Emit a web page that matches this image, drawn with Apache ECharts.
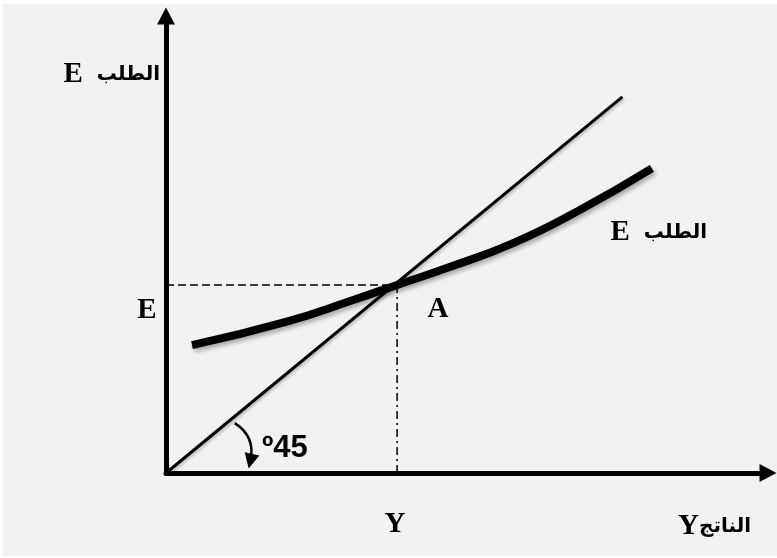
<!DOCTYPE html>
<html>
<head>
<meta charset="utf-8">
<script src="https://cdn.jsdelivr.net/npm/echarts@6/dist/echarts.min.js"></script>
<style>
  html, body { margin: 0; background: #fff; }
  #main { position: absolute; left: 3px; top: 4px; width: 774px; height: 552px; }
</style>
</head>
<body>
<div id="main"></div>
<script>
// 45 degree line (E = Y)
const diagY = [0, 7.9];
const diagE = [0, 8];

// demand curve E
const demandY = [0.45, 2.09, 3.24, 4, 4.86, 6.01, 7.17, 8.41];
const demandE = [2.72, 3.22, 3.68, 4, 4.36, 4.89, 5.6, 6.48];

// equilibrium point A
const eqY = 4;
const eqE = 4;

// curved arrow marking the 45 degree angle
const arcY = [1.19, 1.46];
const arcE = [1.06, 0.25];

const zip = (xs, ys) => xs.map((x, i) => [x, ys[i]]);

const chart = echarts.init(document.getElementById('main'));

const serif = 'Liberation Serif, Times New Roman, serif';
const arabic = 'DejaVu Sans, Noto Sans, sans-serif';

function label(x, y, text, align, rich) {
  return {
    type: 'text',
    x: x,
    y: y,
    z: 10,
    style: {
      text: text,
      align: align,
      verticalAlign: 'middle',
      fill: '#000',
      font: 'bold 29px ' + serif,
      rich: rich
    }
  };
}

const mixed = {
  e: { fontFamily: serif, fontWeight: 'bold', fontSize: 29, fill: '#000' },
  ar: { fontFamily: arabic, fontWeight: 'bold', fontSize: 20, fill: '#000' },
  gap: { fontFamily: serif, fontSize: 29, width: 14 }
};

const axisLine = {
  show: true,
  onZero: false,
  symbol: ['none', 'triangle'],
  symbolSize: [18, 17],
  lineStyle: { color: '#000', width: 5 }
};

const option = {
  backgroundColor: '#f2f2f2',
  animation: false,
  grid: { left: 163, right: 9, top: 12, bottom: 83 },
  xAxis: {
    type: 'value',
    min: 0,
    max: 10.42,
    axisLine: axisLine,
    axisTick: { show: false },
    axisLabel: { show: false },
    splitLine: { show: false }
  },
  yAxis: {
    type: 'value',
    min: 0,
    max: 9.72,
    axisLine: axisLine,
    axisTick: { show: false },
    axisLabel: { show: false },
    splitLine: { show: false }
  },
  series: [
    {
      name: 'guideE',
      type: 'line',
      data: [[0, eqE], [eqY, eqE]],
      symbol: 'none',
      lineStyle: { color: '#000', width: 1.5, type: [8, 4] },
      z: 1
    },
    {
      name: 'guideY',
      type: 'line',
      data: [[eqY, eqE], [eqY, 0]],
      symbol: 'none',
      lineStyle: { color: '#000', width: 1.5, type: [8, 4, 2, 4] },
      z: 1
    },
    {
      name: '45',
      type: 'line',
      data: zip(diagY, diagE),
      symbol: 'none',
      lineStyle: {
        color: '#000', width: 3,
        shadowColor: 'rgba(0,0,0,0.25)', shadowBlur: 3, shadowOffsetX: 1, shadowOffsetY: 2
      },
      z: 2
    },
    {
      name: 'demand',
      type: 'line',
      smooth: true,
      data: zip(demandY, demandE),
      symbol: 'none',
      lineStyle: {
        color: '#000', width: 8, cap: 'butt',
        shadowColor: 'rgba(0,0,0,0.3)', shadowBlur: 4, shadowOffsetX: 2, shadowOffsetY: 3
      },
      z: 3
    },
    {
      name: 'angle',
      type: 'lines',
      coordinateSystem: 'cartesian2d',
      data: [{ coords: zip(arcY, arcE) }],
      symbol: ['none', 'triangle'],
      symbolSize: 15,
      lineStyle: { color: '#000', width: 2.5, curveness: 0.35, opacity: 1 },
      z: 4
    }
  ],
  graphic: [
    label(157, 71, '{e|E}{gap|}{ar|الطلب}', 'right', mixed),
    label(144, 307, 'E', 'center'),
    label(435, 306, 'A', 'center'),
    label(704, 229, '{e|E}{gap|}{ar|الطلب}', 'right', mixed),
    label(392, 521, 'Y', 'center'),
    label(748, 523, '{e|Y}{ar|الناتج}', 'right', mixed),
    {
      type: 'text',
      x: 259,
      y: 444,
      z: 10,
      style: {
        text: 'º45',
        align: 'left',
        verticalAlign: 'middle',
        fill: '#000',
        font: 'bold 31px Liberation Sans, Arial, sans-serif'
      }
    }
  ]
};

chart.setOption(option);
</script>
</body>
</html>
